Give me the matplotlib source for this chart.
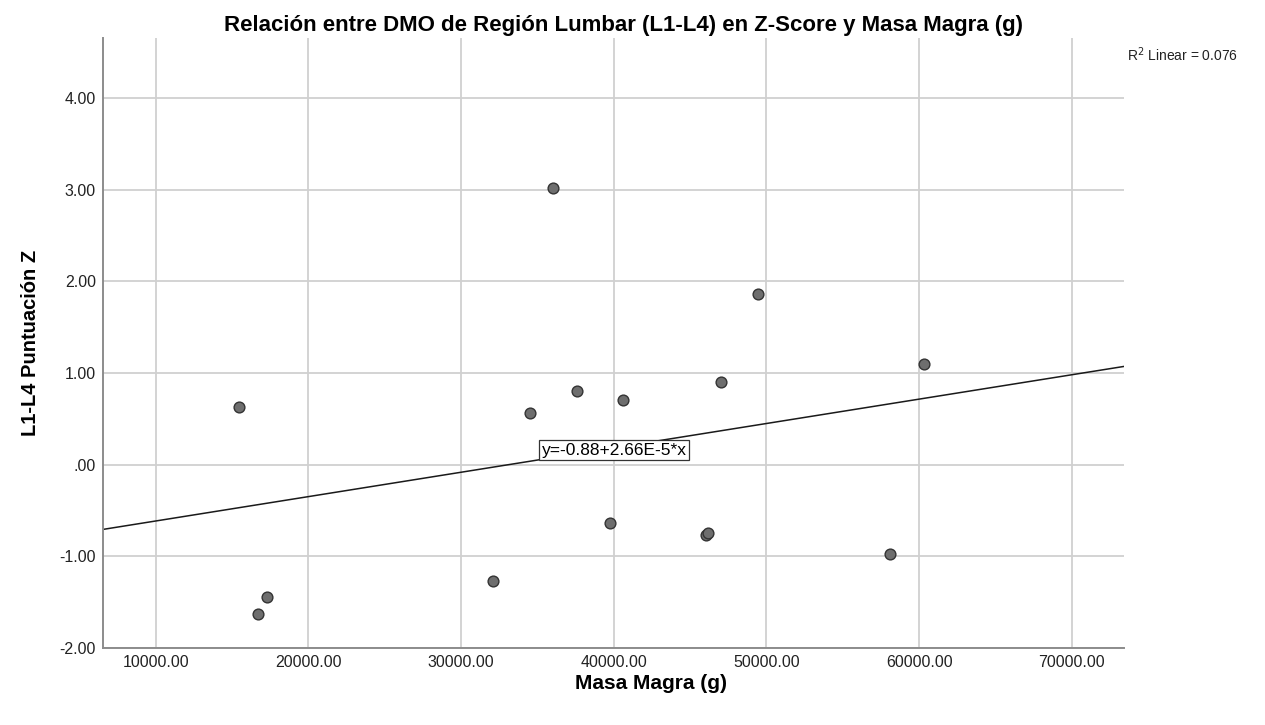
import numpy as np
import matplotlib
matplotlib.use("Agg")
import matplotlib.pyplot as plt

plt.rcParams['font.family'] = ['Liberation Sans', 'DejaVu Sans']

# data
masa_magra = [15475, 16700, 17269, 32109, 34512, 36000, 37570, 39751,
              40583, 46038, 46189, 47020, 49424, 58087, 60313]
z_score = [0.629, -1.625, -1.447, -1.265, 0.570, 3.017, 0.807, -0.636,
           0.705, -0.763, -0.745, 0.905, 1.861, -0.974, 1.098]

intercept = -0.88
slope = 2.66e-5
r2 = 0.076

x_ticks = [10000, 20000, 30000, 40000, 50000, 60000, 70000]
y_ticks = [-2, -1, 0, 1, 2, 3, 4]
y_tick_labels = ["-2.00", "-1.00", ".00", "1.00", "2.00", "3.00", "4.00"]

fig = plt.figure(figsize=(12.65, 7.25), dpi=100)
ax = fig.add_axes([0.0814, 0.1062, 0.8071, 0.8414])

xmin, xmax = 6549, 73412
ax.set_xlim(xmin, xmax)
ax.set_ylim(-2, 4.657)

ax.set_xticks(x_ticks)
ax.set_xticklabels([f"{v:.2f}" for v in x_ticks])
ax.set_yticks(y_ticks)
ax.set_yticklabels(y_tick_labels)
ax.tick_params(length=0, labelsize=11.5, colors="#222222")
ax.tick_params(axis="x", pad=5)
ax.tick_params(axis="y", pad=5)

ax.grid(True, color="#d0d0d0", linewidth=1.3)
ax.set_axisbelow(True)
for s in ["top", "right"]:
    ax.spines[s].set_visible(False)
for s in ["left", "bottom"]:
    ax.spines[s].set_color("#8c8c8c")
    ax.spines[s].set_linewidth(1.4)

# fit line
xl = np.array([xmin, xmax])
ax.plot(xl, intercept + slope * xl, color="#1a1a1a", linewidth=1.1, zorder=2)

ax.scatter(masa_magra, z_score, s=60, facecolor="#6e6e6e", edgecolor="#333333",
           linewidth=1.0, zorder=3)

ax.text(40013, 0.158, "y=-0.88+2.66E-5*x", fontsize=12.5, ha="center", va="center",
        bbox=dict(boxstyle="square,pad=0.15", facecolor="white", edgecolor="#333333",
                  linewidth=0.9), zorder=4)

fig.text(0.891, 0.925, f"R$^2$ Linear = {r2:.3f}", fontsize=10, ha="left", va="center",
         color="#222222")

ax.set_title("Relación entre DMO de Región Lumbar (L1-L4) en Z-Score y Masa Magra (g)",
             fontsize=16, fontweight="bold", pad=5, x=0.510)
ax.set_xlabel("Masa Magra (g)", fontsize=15, fontweight="bold", labelpad=3)
ax.xaxis.set_label_coords(0.537, -0.042)
ax.set_ylabel("L1-L4 Puntuación Z", fontsize=14.5, fontweight="bold", labelpad=14)

fig.savefig("out.png", dpi=100)
